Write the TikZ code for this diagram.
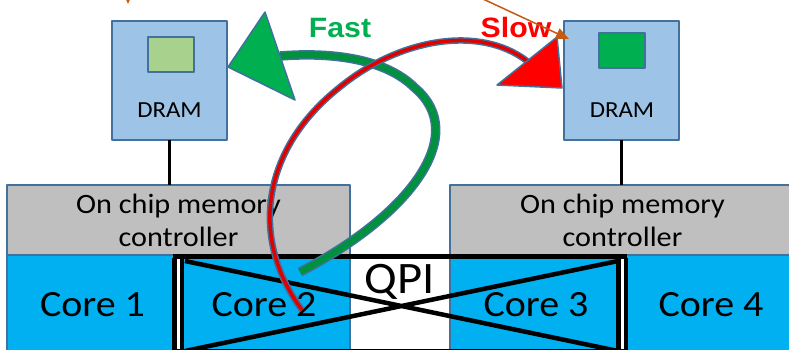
\documentclass[tikz,border=0pt]{standalone}
\usepackage{fontspec}
\setmainfont{Carlito}[FakeStretch=1.08]
\newfontfamily\headfont{Liberation Sans}[FakeStretch=1.08]
\usetikzlibrary{arrows.meta}
\definecolor{edgeblue}{HTML}{41719C}
\definecolor{dramblue}{HTML}{9DC3E6}
\definecolor{coreblue}{HTML}{00B0F0}
\definecolor{ctrlgray}{HTML}{BFBFBF}
\definecolor{fastgreen}{HTML}{00B050}
\definecolor{lightgreen}{HTML}{A9D18E}
\definecolor{shaftgreen}{HTML}{00913F}
\definecolor{shaftred}{HTML}{E00000}
\definecolor{pointerorange}{HTML}{C55A11}
\begin{document}
\begin{tikzpicture}[x=1pt,y=-1pt,line join=round,
		box/.style={draw=edgeblue,line width=1.5,inner sep=0,outer sep=0,anchor=north west},
		dram/.style={box,line width=2.2,fill=dramblue,minimum width=115pt,minimum height=119pt},
		cell/.style={box,line width=2.2,minimum width=46pt,minimum height=35pt},
		ctrl/.style={box,fill=ctrlgray,minimum height=70pt,align=center,font=\fontsize{28}{33}\selectfont},
		core/.style={box,fill=coreblue,minimum height=100pt,font=\fontsize{37}{40}\selectfont},
		ribbon/.style={draw=edgeblue,line width=1.5,line cap=butt},
		pointer/.style={pointerorange,line width=1.5,-{Triangle[length=13pt,width=11pt]}}]
	\useasboundingbox (0,0) rectangle (789,349);
	\clip (0,0) rectangle (789,349);
	\node[dram] (dramL) at (112,21) {};
	\node[dram] (dramR) at (564,21) {};
	\node[cell,fill=lightgreen] (cellL) at (148,37) {};
	\node[cell,fill=fastgreen] (cellR) at (599,33) {};
	\node[font=\fontsize{23}{23}\selectfont,anchor=base] (textL) at (169.5,117) {DRAM};
	\node[font=\fontsize{23}{23}\selectfont,anchor=base] (textR) at (622,117) {DRAM};
	\node[ctrl,minimum width=343pt] (ctrlL) at (7,185) {On chip memory\\controller};
	\node[ctrl,minimum width=345pt] (ctrlR) at (450,185) {On chip memory\\controller};
	\draw[line width=3] (dramL.south) -- (dramL.south |- ctrlL.north) (dramR.south) -- (dramR.south |- ctrlR.north);
	\foreach \x/\w/\n in {7/171/1,178/172/2,450/172/3,622/178/4}
		\node[core,minimum width=\w pt] (core\n) at (\x,255) {Core \n};
	\draw[line width=4.5,double=white,double distance=3pt] (178,258) -- (178,352) (622,258) -- (622,352);
	\draw[line width=5] (173,256) -- (627,256);
	\draw[line width=3] (173,350) -- (627,350);
	\draw[line width=4.5] (185,261) -- (618,351) (618,261) -- (185,351);
	\node[font=\fontsize{45}{45}\selectfont,anchor=base] (qpi) at (400,293) {QPI};
	\node[font=\headfont\bfseries\fontsize{28}{28}\selectfont,text=fastgreen,anchor=base] (fast) at (340,37) {Fast};
	\node[font=\headfont\bfseries\fontsize{28}{28}\selectfont,text=red,anchor=base] (slow) at (516,37) {Slow};
	\coordinate (gTail) at (300,272);
	\coordinate (gBase) at (280,56);
	\coordinate (rTail) at (302,310);
	\coordinate (rBase) at (527,61);
	\draw[ribbon,double=shaftgreen,double distance=6.5pt] (gTail) .. controls (410,215) and (470,135) .. (415,88) .. controls (385,58) and (330,52) .. (gBase);
	\draw[edgeblue,line width=1.5,fill=fastgreen] (228,67) -- (265,12) -- (295,100) -- cycle;
	\draw[ribbon,double=shaftred,double distance=3.5pt] (rTail) .. controls (250,240) and (260,150) .. (340,87) .. controls (400,38) and (480,25) .. (rBase);
	\draw[edgeblue,line width=1.5,fill=red] (562,88) -- (497,85) -- (557,37) -- cycle;
	\coordinate (pStart) at (440,-21);
	\coordinate (pStub) at (128,-30);
	\coordinate (pTip) at (569,39);
	\draw[pointer] (pStart) -- (pTip);
	\draw[pointer] (pStub) -- (128,4);
\end{tikzpicture}
\end{document}
